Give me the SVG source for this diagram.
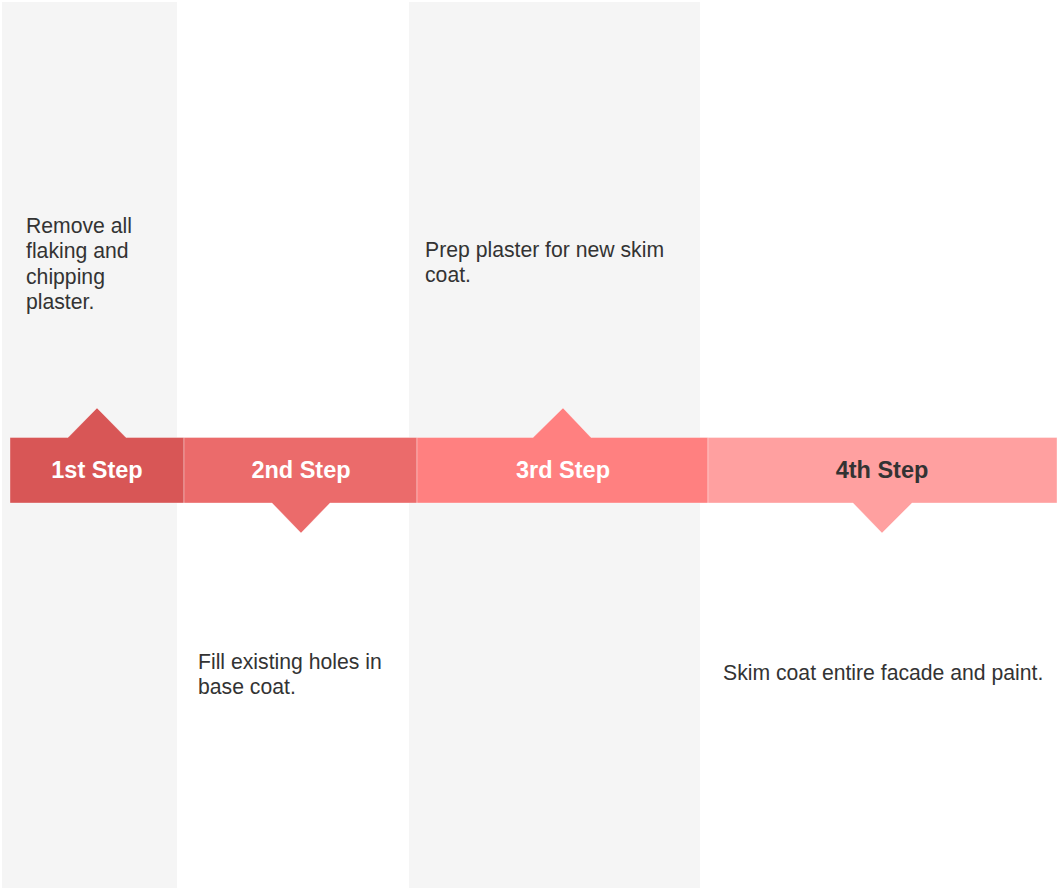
<svg xmlns="http://www.w3.org/2000/svg" width="1059" height="890" viewBox="0 0 1059 890">
<style>
.col{fill:#f5f5f5}
.lbl{font-family:"Liberation Sans",Arial,sans-serif;font-size:23.5px;font-weight:bold;text-anchor:middle}
.txt{font-family:"Liberation Sans",Arial,sans-serif;font-size:21.2px;fill:#333333}
.seg{stroke:#ffffff;stroke-opacity:0.35;stroke-width:1}
</style>
<rect width="1059" height="890" fill="#ffffff"/>
<g id="columns">
<rect class="col" x="2" y="2" width="175" height="886"/>
<rect class="col" x="409" y="2" width="291" height="886"/>
</g>
<g id="step1">
<path class="seg" fill="#d85656" d="M10,437.5 H68 L97,408 L126,437.5 H184 V503 H10 Z"/>
<text class="lbl" x="97" y="478" fill="#ffffff">1st Step</text>
<text class="txt" x="26" y="232.5">Remove all</text>
<text class="txt" x="26" y="258">flaking and</text>
<text class="txt" x="26" y="283.5">chipping</text>
<text class="txt" x="26" y="309">plaster.</text>
</g>
<g id="step2">
<path class="seg" fill="#eb6b6b" d="M184,437.5 H417 V503 H330 L301,533 L272,503 H184 Z"/>
<text class="lbl" x="301" y="478" fill="#ffffff">2nd Step</text>
<text class="txt" x="198" y="668.5">Fill existing holes in</text>
<text class="txt" x="198" y="694">base coat.</text>
</g>
<g id="step3">
<path class="seg" fill="#ff8080" d="M417,437.5 H533 L563,408 L591,437.5 H708 V503 H417 Z"/>
<text class="lbl" x="563" y="478" fill="#ffffff">3rd Step</text>
<text class="txt" x="425" y="256.5">Prep plaster for new skim</text>
<text class="txt" x="425" y="282">coat.</text>
</g>
<g id="step4">
<path class="seg" fill="#ffa0a0" d="M708,437.5 H1057 V503 H912 L882,533 L853,503 H708 Z"/>
<text class="lbl" x="882" y="478" fill="#333333">4th Step</text>
<text class="txt" x="723" y="679.5">Skim coat entire facade and paint.</text>
</g>
<g id="connectors"/>
</svg>
